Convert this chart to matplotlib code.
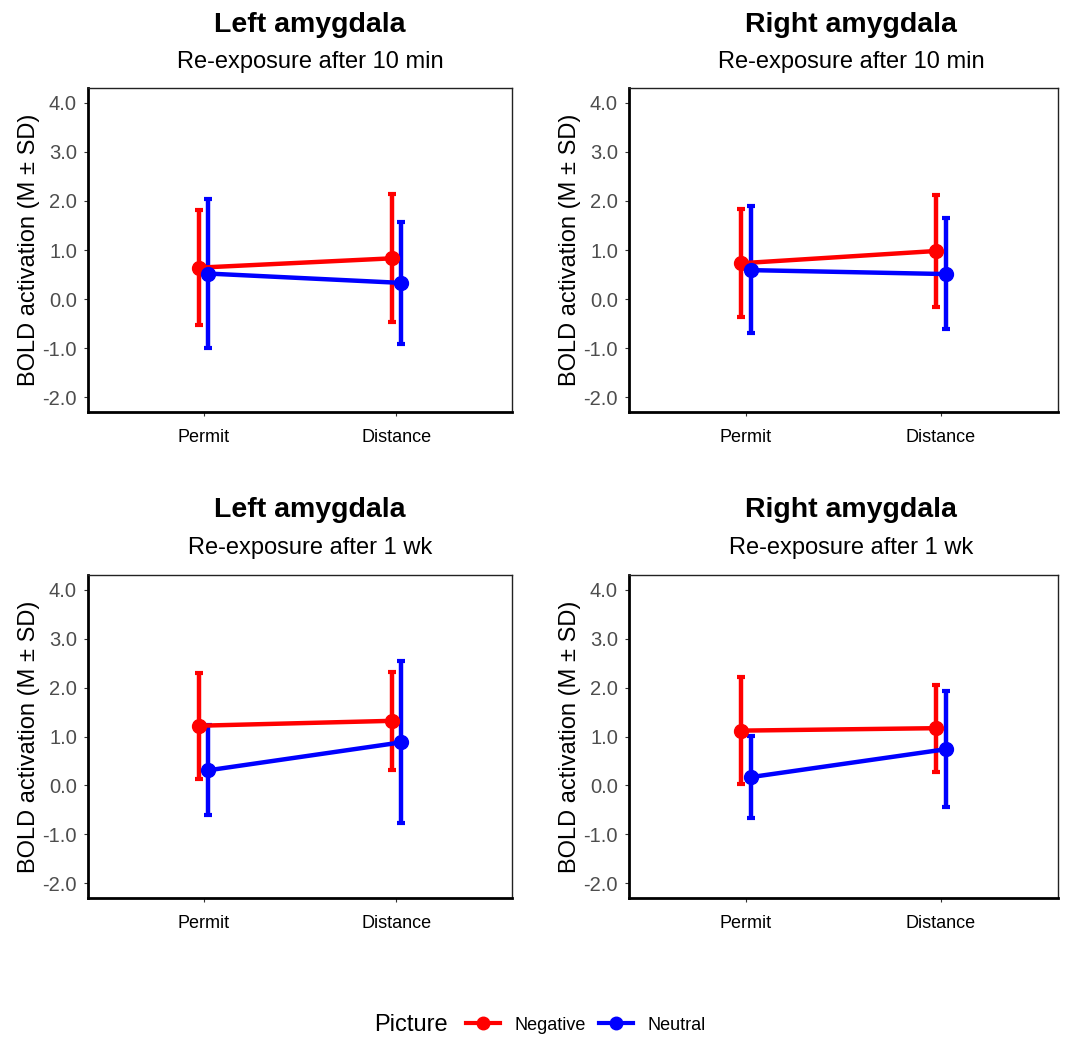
import matplotlib
matplotlib.use("Agg")
import matplotlib.pyplot as plt
from matplotlib.lines import Line2D
import numpy as np

plt.rcParams['font.family'] = ['Liberation Sans', 'DejaVu Sans']

conditions = ["Permit", "Distance"]
pictures = ["Negative", "Neutral"]
colors = {"Negative": "#FF0000", "Neutral": "#0000FF"}
region_titles = ["Left amygdala", "Right amygdala", "Left amygdala", "Right amygdala"]
subtitles = ["Re-exposure after 10 min", "Re-exposure after 10 min",
             "Re-exposure after 1 wk", "Re-exposure after 1 wk"]
yticks = [-2.0, -1.0, 0.0, 1.0, 2.0, 3.0, 4.0]

# means and SD bounds per panel: [Permit, Distance]
neg_mean = [[0.64, 0.83], [0.73, 0.98], [1.22, 1.32], [1.12, 1.17]]
neg_upper = [[1.82, 2.15], [1.83, 2.13], [2.29, 2.32], [2.21, 2.06]]
neg_lower = [[-0.52, -0.46], [-0.37, -0.16], [0.13, 0.32], [0.03, 0.27]]
neu_mean = [[0.52, 0.33], [0.59, 0.51], [0.31, 0.88], [0.17, 0.74]]
neu_upper = [[2.04, 1.57], [1.90, 1.65], [1.24, 2.55], [1.02, 1.93]]
neu_lower = [[-0.99, -0.91], [-0.70, -0.61], [-0.61, -0.77], [-0.67, -0.44]]

data = {
    "Negative": (neg_mean, neg_upper, neg_lower),
    "Neutral": (neu_mean, neu_upper, neu_lower),
}

W, H = 1074, 1038
fig = plt.figure(figsize=(W / 100, H / 100), dpi=100)

# axes boxes in pixels: (left, top, right, bottom)
boxes = [(88, 88, 512, 412), (629, 88, 1058, 412),
         (88, 575, 512, 898), (629, 575, 1058, 898)]
title_x = [310, 851, 310, 851]
title_y = [25, 62, 510, 548]

dodge = {"Negative": -0.025, "Neutral": 0.025}

for i, (l, t, r, b) in enumerate(boxes):
    ax = fig.add_axes([l / W, 1 - b / H, (r - l) / W, (b - t) / H])
    xs = np.arange(len(conditions)) + 1
    for pic in pictures:
        m, up, lo = data[pic]
        mean = np.array(m[i]); upper = np.array(up[i]); lower = np.array(lo[i])
        ax.errorbar(xs + dodge[pic], mean,
                    yerr=[mean - lower, upper - mean],
                    color=colors[pic], lw=3.2, marker="o", ms=10,
                    capsize=3, capthick=3, elinewidth=3.2, zorder=3)
    ax.set_xlim(0.4, 2.6)
    ax.set_ylim(-2.3, 4.3)
    ax.set_xticks(xs)
    ax.set_xticklabels(conditions, fontsize=13, color="black")
    ax.set_yticks(yticks)
    ax.set_yticklabels([f"{v:.1f}" for v in yticks], fontsize=14.5, color="#4D4D4D")
    ax.tick_params(axis="both", length=3, width=0.8, color="#333333")
    ax.tick_params(axis="x", pad=9)
    ax.tick_params(axis="y", pad=5)
    ax.set_ylabel("BOLD activation (M ± SD)", fontsize=17, color="black", labelpad=2)
    for s in ["top", "right"]:
        ax.spines[s].set_linewidth(1.0)
        ax.spines[s].set_color("#222222")
    for s in ["left", "bottom"]:
        ax.spines[s].set_linewidth(2.0)
        ax.spines[s].set_color("black")
    ty = title_y[0] if i < 2 else title_y[2]
    sy = title_y[1] if i < 2 else title_y[3]
    fig.text(title_x[i] / W, 1 - ty / H, region_titles[i], fontsize=20.5,
             fontweight="bold", ha="center", va="center")
    fig.text(title_x[i] / W, 1 - sy / H, subtitles[i], fontsize=17,
             ha="center", va="center")

handles = [Line2D([0], [0], color=colors[p], lw=3, marker="o", ms=9) for p in pictures]
leg = fig.legend(handles, pictures, loc="center", bbox_to_anchor=(586 / W, 1 - 1025 / H),
                 ncol=2, frameon=False, fontsize=13,
                 handlelength=1.9, columnspacing=0.7, handletextpad=0.8)
fig.text(411 / W, 1 - 1025 / H, "Picture", fontsize=17, ha="center", va="center")

fig.savefig("out.png", dpi=100, facecolor="white")
